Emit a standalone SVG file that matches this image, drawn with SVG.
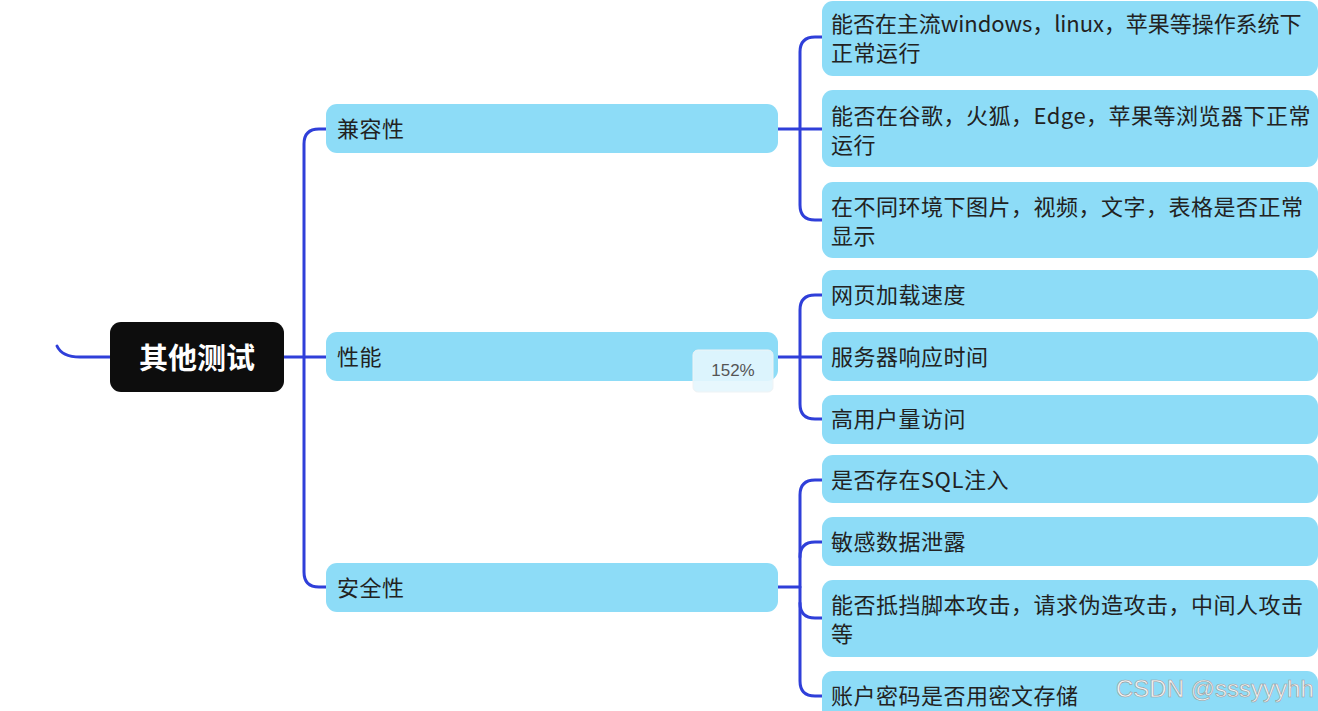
<svg xmlns="http://www.w3.org/2000/svg" width="1318" height="711" viewBox="0 0 1318 711">
<style>
.n{fill:#8ddcf7}
.t{font-family:"Noto Sans CJK SC","Noto Sans",sans-serif;font-size:22px;letter-spacing:0.5px;fill:#222}
.c{fill:none;stroke:#2f3fd9;stroke-width:3;stroke-linecap:round}
</style>
<rect width="1318" height="711" fill="#fff"/>
<g id="connectors">
<path class="c" d="M57,346 Q62,357 80,357 H110"/>
<path class="c" d="M284,357 H326"/>
<path class="c" d="M326,129 H319 Q304,129 304,144 V572 Q304,587 319,587 H326"/>
<path class="c" d="M778,129 H822"/>
<path class="c" d="M822,37 H815 Q800,37 800,52 V205 Q800,220 815,220 H822"/>
<path class="c" d="M778,357 H822"/>
<path class="c" d="M822,295 H815 Q800,295 800,310 V404 Q800,419 815,419 H822"/>
<path class="c" d="M778,587 H800"/>
<path class="c" d="M822,480 H815 Q800,480 800,495 V681 Q800,696 815,696 H822"/>
<path class="c" d="M800,557 Q800,542 815,542 H822 M800,603 Q800,618 815,618 H822"/>
</g>
<g id="root">
<rect x="110" y="322" width="174" height="70" rx="11" fill="#0d0d0d"/>
<text x="197" y="369" text-anchor="middle" font-family="Noto Sans CJK SC,sans-serif" font-size="29" font-weight="bold" fill="#fff">其他测试</text>
</g>
<g id="n-compat">
<rect class="n" x="326" y="104" width="452" height="49" rx="11"/>
<text class="t" x="337" y="137">兼容性</text>
</g>
<g id="n-perf">
<rect class="n" x="326" y="332" width="452" height="49" rx="11"/>
<text class="t" x="337" y="365">性能</text>
</g>
<g id="n-sec">
<rect class="n" x="326" y="563" width="452" height="49" rx="11"/>
<text class="t" x="337" y="596">安全性</text>
</g>
<g id="c1">
<rect class="n" x="822" y="1" width="496" height="75" rx="11"/>
<text class="t"><tspan x="831" y="32" textLength="471" lengthAdjust="spacing">能否在主流windows，linux，苹果等操作系统下</tspan><tspan x="831" y="61">正常运行</tspan></text>
</g>
<g id="c2">
<rect class="n" x="822" y="90" width="496" height="77" rx="11"/>
<text class="t"><tspan x="831" y="124">能否在谷歌，火狐，Edge，苹果等浏览器下正常</tspan><tspan x="831" y="153">运行</tspan></text>
</g>
<g id="c3">
<rect class="n" x="822" y="182" width="496" height="76" rx="11"/>
<text class="t"><tspan x="831" y="215">在不同环境下图片，视频，文字，表格是否正常</tspan><tspan x="831" y="244">显示</tspan></text>
</g>
<g id="c4">
<rect class="n" x="822" y="270" width="496" height="49" rx="11"/>
<text class="t" x="831" y="303">网页加载速度</text>
</g>
<g id="c5">
<rect class="n" x="822" y="332" width="496" height="49" rx="11"/>
<text class="t" x="831" y="365">服务器响应时间</text>
</g>
<g id="c6">
<rect class="n" x="822" y="395" width="496" height="49" rx="11"/>
<text class="t" x="831" y="427">高用户量访问</text>
</g>
<g id="c7">
<rect class="n" x="822" y="455" width="496" height="48" rx="11"/>
<text class="t" x="831" y="488">是否存在SQL注入</text>
</g>
<g id="c8">
<rect class="n" x="822" y="517" width="496" height="49" rx="11"/>
<text class="t" x="831" y="550">敏感数据泄露</text>
</g>
<g id="c9">
<rect class="n" x="822" y="580" width="496" height="77" rx="11"/>
<text class="t"><tspan x="831" y="613">能否抵挡脚本攻击，请求伪造攻击，中间人攻击</tspan><tspan x="831" y="642">等</tspan></text>
</g>
<g id="c10">
<rect class="n" x="822" y="671" width="496" height="60" rx="11"/>
<text class="t" x="831" y="704">账户密码是否用密文存储</text>
</g>
<g id="badge">
<rect x="693" y="350" width="80" height="42" rx="5" fill="#e4f6fd" fill-opacity="0.9" stroke="#eef3f5" stroke-width="1"/>
<text x="733" y="376" text-anchor="middle" font-family="Liberation Sans,sans-serif" font-size="17" fill="#555">152%</text>
</g>
<text x="1116" y="697" font-family="Liberation Sans,sans-serif" font-size="24" fill="#f4f4f4" stroke="#9a9a9a" stroke-width="0.6">CSDN @sssyyyhh</text>
</svg>
